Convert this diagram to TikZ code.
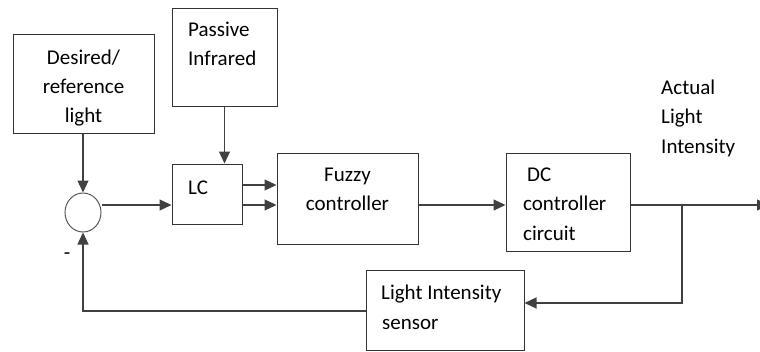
\documentclass[tikz,border=0pt]{standalone}
\usepackage{fontspec}
\setmainfont{Carlito}
\usetikzlibrary{arrows.meta,shapes.geometric}
\begin{document}
\begin{tikzpicture}[x=1pt,y=-1pt,
  blk/.style={draw=black!80,line width=1pt},
  lbl/.style={inner sep=0pt,font=\fontsize{21}{29}\selectfont,anchor=base west},
  clbl/.style={inner sep=0pt,font=\fontsize{21}{29}\selectfont,anchor=base},
  conn/.style={draw=black!75,line width=1.2pt,-{Triangle[length=12pt,width=11pt]}},
  line/.style={draw=black!75,line width=1.2pt}]
\useasboundingbox (0,0) rectangle (760,351);
% boxes
\node[blk,minimum width=141pt,minimum height=99pt,inner sep=0pt] (des) at (83.5,83.5) {};
\node[blk,minimum width=105pt,minimum height=98pt,inner sep=0pt] (pir) at (224.5,57) {};
\node[blk,minimum width=70pt,minimum height=60pt,inner sep=0pt] (lc) at (207,194) {};
\node[blk,minimum width=141pt,minimum height=91pt,inner sep=0pt] (fz) at (347.5,198.5) {};
\node[blk,minimum width=124pt,minimum height=98pt,inner sep=0pt] (dc) at (568,202) {};
\node[blk,minimum width=158pt,minimum height=80pt,inner sep=0pt] (sen) at (445,310) {};
\node[draw=black!65,line width=1pt,ellipse,minimum width=36pt,minimum height=39pt,inner sep=0pt] (sum) at (83,212.5) {};
% texts
\node[clbl] (t1) at (83.5,64) {Desired/};
\node[clbl] (t2) at (83.5,93) {reference};
\node[clbl] (t3) at (83.5,122) {light};
\node[lbl] (t4) at (188,36) {Passive};
\node[lbl] (t5) at (188,65) {Infrared};
\node[lbl] (t6) at (188,194) {LC};
\node[clbl] (t7) at (347.5,181) {Fuzzy};
\node[clbl] (t8) at (347.5,210) {controller};
\node[lbl] (t9) at (527,181) {DC};
\node[lbl] (t10) at (523,210) {controller};
\node[lbl] (t11) at (523,240) {circuit};
\node[lbl] (t12) at (381,299) {Light Intensity};
\node[lbl] (t13) at (382,329) {sensor};
\node[lbl] (t14) at (661,94) {Actual};
\node[lbl] (t15) at (661,123) {Light};
\node[lbl] (t16) at (661,153) {Intensity};
\node[clbl] (minus) at (67,259) {-};
% connectors
\coordinate (out) at (769,205);
\coordinate (br) at (682,205);
\coordinate (brd) at (682,303);
\coordinate (fbc) at (83,311);
\draw[conn] (des.south -| sum.north) -- (sum.north);
\draw[conn] (pir.south) -- (lc.north -| pir.south);
\draw[conn] (sum.east |- 0,205) -- (lc.west |- 0,205);
\draw[conn] (lc.east |- 0,185) -- (fz.west |- 0,185);
\draw[conn] (lc.east |- 0,205) -- (fz.west |- 0,205);
\draw[conn] (fz.east |- 0,205) -- (dc.west |- 0,205);
\draw[conn] (dc.east |- 0,205) -- (out);
\draw[conn] (br) -- (brd) -- (sen.east |- brd);
\draw[conn] (sen.west |- fbc) -- (fbc) -- (sum.south);
\end{tikzpicture}
\end{document}
